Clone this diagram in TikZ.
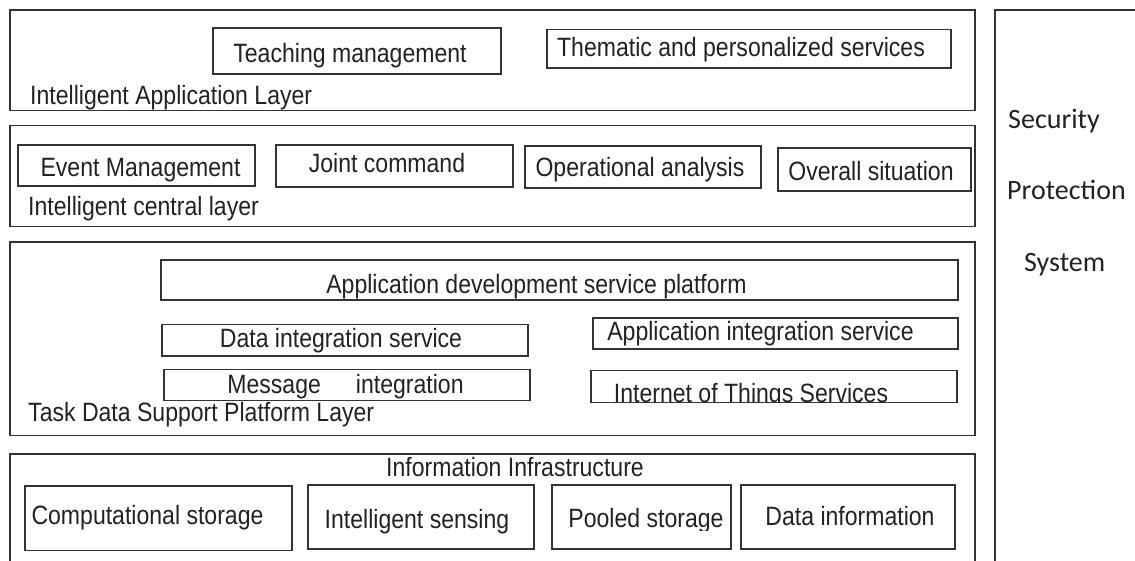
\documentclass[tikz,border=0pt]{standalone}
\usepackage{fontspec}
\setmainfont{Liberation Sans}[FakeStretch=0.87]
\newfontfamily\secfont{Carlito}
\newcommand\mybox[5]{\node[boxst, minimum width={(#4)-(#2)}, minimum height={(#5)-(#3)}] (#1) at ({((#2)+(#4))/2},{((#3)+(#5))/2}) {};}
\definecolor{ink}{HTML}{222222}
\definecolor{edge}{HTML}{333333}
\begin{document}
\begin{tikzpicture}[x=1pt,y=-1pt,
  boxst/.style={draw=edge, line width=1.4pt, inner sep=0pt, outer sep=0pt, rectangle},
  txt/.style={inner sep=0pt, anchor=base, text=ink, font=\fontsize{26.5}{30}\selectfont},
  lbl/.style={txt, anchor=base west},
  sec/.style={inner sep=0pt, anchor=base west, text=ink, font=\secfont\fontsize{28}{32}\selectfont}]
\clip (0,0) rectangle (1135,560);
\fill[white] (0,0) rectangle (1135,560);
% Layer 1
\mybox{L1}{10}{10}{975}{110.5}
\mybox{tm}{213}{28}{501}{74}
\node[txt] (ttm) at (350,62) {Teaching management};
\mybox{th}{547}{29.5}{951}{68}
\node[txt] (tth) at (741,56) {Thematic and personalized services};
\node[lbl] (l1) at (30,104) {Intelligent Application Layer};
% Layer 2
\mybox{L2}{10}{125.5}{975}{226.5}
\mybox{em}{18}{145}{255}{186}
\node[txt] (tem) at (140.5,176) {Event Management};
\mybox{jc}{276}{145}{513}{187}
\node[txt] (tjc) at (387,172.5) {Joint command};
\mybox{oa}{525}{146}{761}{188}
\node[txt] (toa) at (640,176) {Operational analysis};
\mybox{os}{778}{148}{971}{191}
\node[txt] (tos) at (871,180) {Overall situation};
\node[lbl] (l2) at (28,215) {Intelligent central layer};
% Layer 3
\mybox{L3}{10}{242}{975}{435.5}
\mybox{ad}{161}{260}{958}{300}
\node[txt] (tad) at (536.5,293) {Application development service platform};
\mybox{di}{162}{324.5}{528}{356}
\node[txt] (tdi) at (341,347) {Data integration service};
\mybox{ai}{593}{318}{958}{349}
\node[txt] (tai) at (760.5,340) {Application integration service};
\mybox{mi}{164}{369.5}{530}{400.5}
\node[txt] (tmi) at (345.5,393) {Message\hspace{35pt}integration};
\mybox{iot}{591}{370.5}{957}{402.5}
\begin{scope}
\clip (iot.north west) rectangle (iot.south east);
\node[txt] (tiot) at (751,402) {Internet of Things Services};
\end{scope}
\node[lbl] (l3) at (28,421) {Task Data Support Platform Layer};
% Layer 4
\mybox{L4}{10}{454}{975}{575}
\node[txt] (tii) at (515,476) {Information Infrastructure};
\mybox{cs}{25}{486}{292}{550.5}
\node[txt] (tcs) at (147.5,524) {Computational storage};
\mybox{is}{308}{485}{534}{549}
\node[txt] (tis) at (417,528) {Intelligent sensing};
\mybox{ps}{552}{485}{731}{549}
\begin{scope}
\clip (ps.north west) rectangle (731,530);
\node[txt] (tps) at (646,527.5) {Pooled storage};
\end{scope}
\mybox{dinf}{741}{485}{955}{549}
\node[txt] (tdinf) at (850,525) {Data information};
% Security
\mybox{sp}{995}{10}{1145}{575}
\node[sec] (s1) at (1008,128) {Security};
\node[sec] (s2) at (1007,199) {Protection};
\node[sec] (s3) at (1024,271) {System};
\end{tikzpicture}
\end{document}
